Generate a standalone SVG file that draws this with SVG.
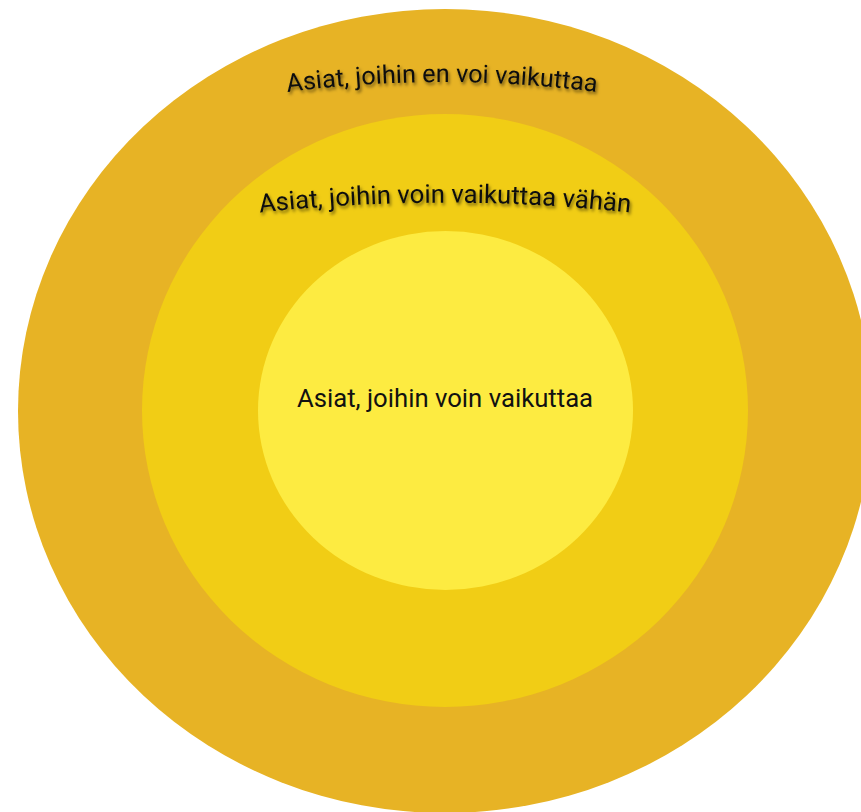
<svg xmlns="http://www.w3.org/2000/svg" width="861" height="812" viewBox="0 0 861 812">
<defs>
<style>
.lbl{font-family:Roboto,"Liberation Sans",sans-serif;font-size:25.7px;fill:#111;}
.lbl.o{font-size:25.2px;}
</style>
<filter id="sh" x="-10%" y="-50%" width="120%" height="200%">
<feDropShadow dx="1.5" dy="2.5" stdDeviation="1.6" flood-color="#000" flood-opacity="0.5"/>
</filter>
<path id="arcOuter" d="M 259 96 A 1206 1206 0 0 1 625 96"/>
<path id="arcMid" d="M 230 216 A 1735 1735 0 0 1 660 216"/>
</defs>
<rect width="861" height="812" fill="#fff"/>
<g id="outer">
<ellipse cx="445" cy="411" rx="427" ry="402" fill="#E7B325"/>
<text class="lbl o" filter="url(#sh)"><textPath href="#arcOuter" startOffset="50%" text-anchor="middle">Asiat, joihin en voi vaikuttaa</textPath></text>
</g>
<g id="middle">
<ellipse cx="445" cy="410.5" rx="303" ry="296.5" fill="#F1CD15"/>
<text class="lbl" filter="url(#sh)"><textPath href="#arcMid" startOffset="50%" text-anchor="middle">Asiat, joihin voin vaikuttaa vähän</textPath></text>
</g>
<g id="inner">
<ellipse cx="445.5" cy="410.5" rx="187.5" ry="179.5" fill="#FDEB41"/>
<text class="lbl" x="445" y="407" text-anchor="middle">Asiat, joihin voin vaikuttaa</text>
</g>
<g id="connectors"/>
</svg>
